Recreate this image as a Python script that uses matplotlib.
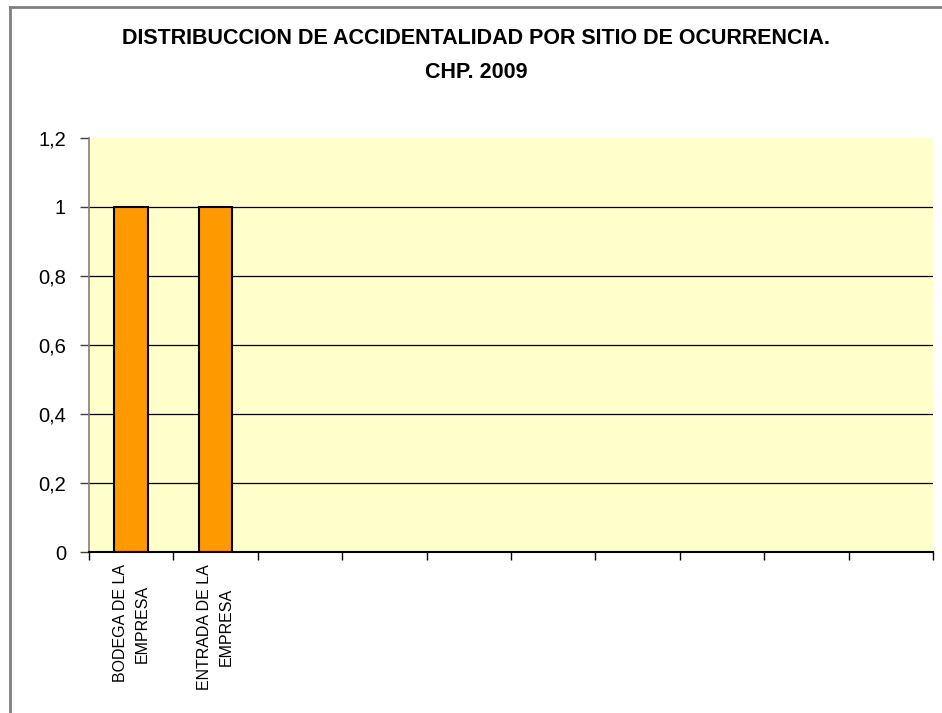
import numpy as np
import matplotlib.pyplot as plt

plt.rcParams['font.family'] = ['Liberation Sans', 'DejaVu Sans']

# Datos (sitio de ocurrencia)
categorias = ["BODEGA DE LA\nEMPRESA", "ENTRADA DE LA\nEMPRESA",
              "", "", "", "", "", "", "", ""]
accidentes = [1, 1, None, None, None, None, None, None, None, None]
yTicks = [0, 0.2, 0.4, 0.6, 0.8, 1.0, 1.2]
yLabels = ["0", "0,2", "0,4", "0,6", "0,8", "1", "1,2"]
titulo1 = "DISTRIBUCCION DE ACCIDENTALIDAD POR SITIO DE OCURRENCIA."
titulo2 = "CHP. 2009"

vals = np.array([np.nan if v is None else v for v in accidentes], dtype=float)
x = np.arange(len(categorias))

fig = plt.figure(figsize=(9.42, 7.13), dpi=100)
ax = fig.add_axes([89/942, 1 - 552/713, 844/942, 414/713])
ax.set_facecolor('#FFFFCC')

# Lineas de cuadricula (sin la de 0 ni la de 1,2)
for yv in yTicks[1:-1]:
    ax.axhline(yv, color='black', lw=0.9, zorder=1)

ax.bar(x, vals, width=0.4, color='#FF9900', edgecolor='black', lw=1.5, zorder=2)

ax.set_xlim(-0.5, len(categorias) - 0.5)
ax.set_ylim(0, 1.2)
ax.set_yticks(yTicks)
ax.set_yticklabels(yLabels, fontsize=14.5)
ax.tick_params(axis='y', direction='out', length=6.5, width=1, color='#404040', pad=10)

# ticks en los bordes de categoria, etiquetas al centro
ax.set_xticks(np.arange(len(categorias) + 1) - 0.5)
ax.set_xticklabels([])
ax.set_xticks(x, minor=True)
ax.set_xticklabels(categorias, minor=True, rotation=90, fontsize=11.5,
                   multialignment='center', linespacing=1.55)
ax.tick_params(axis='x', which='major', direction='out', length=6, width=1)
ax.tick_params(axis='x', which='minor', length=0, pad=9)

for s in ['top', 'right']:
    ax.spines[s].set_visible(False)
ax.spines['left'].set_color('#808080')
ax.spines['left'].set_linewidth(1.2)
ax.spines['bottom'].set_color('black')
ax.spines['bottom'].set_linewidth(1.5)

fig.text(476/942, 1 - 38/713, titulo1, ha='center', va='center',
         fontsize=15.5, fontweight='bold')
fig.text(476/942, 1 - 72/713, titulo2, ha='center', va='center',
         fontsize=15.5, fontweight='bold')

# marco del grafico
fig.add_artist(plt.Line2D([9.5/942, 9.5/942], [0, 1 - 6.5/713], color='#808080', lw=2))
fig.add_artist(plt.Line2D([9.5/942, 1], [1 - 6.5/713, 1 - 6.5/713], color='#808080', lw=2))

fig.savefig('out.png', dpi=100)
